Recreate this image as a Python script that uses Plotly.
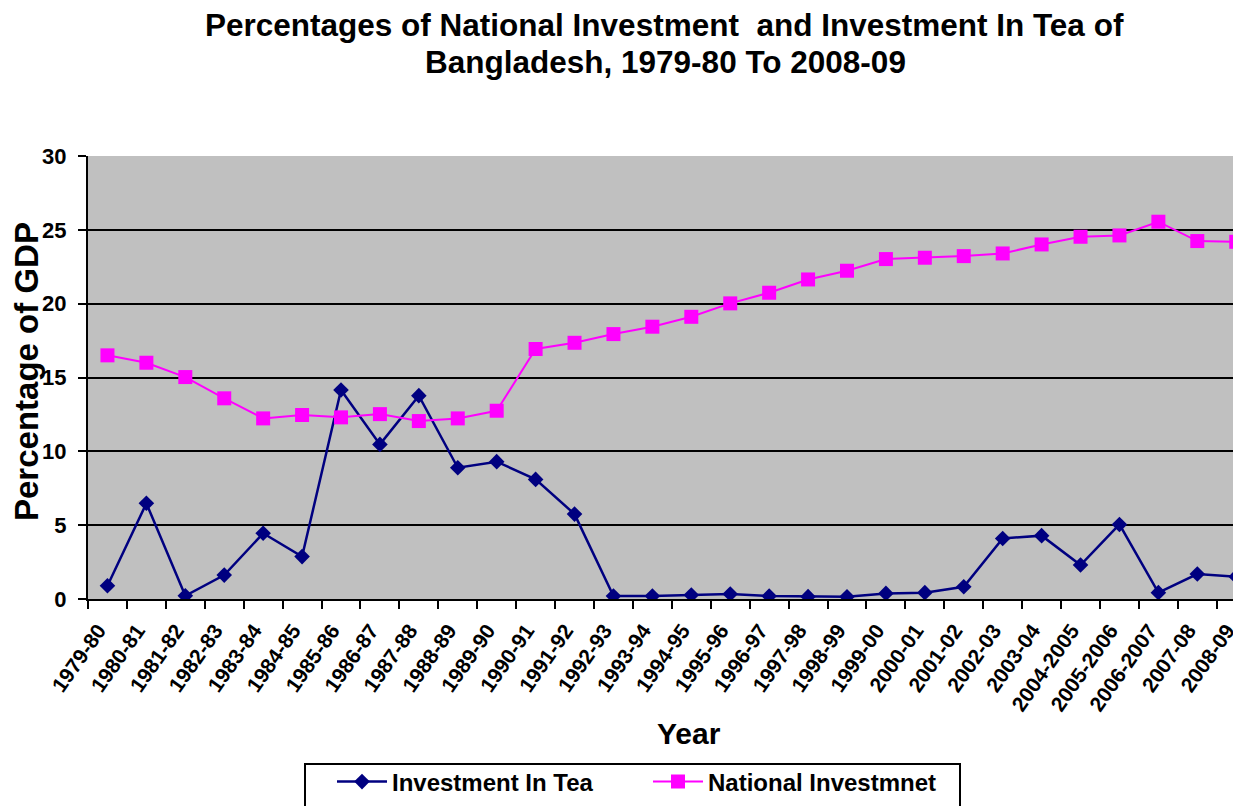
import plotly.graph_objects as go

years = ["1979-80", "1980-81", "1981-82", "1982-83", "1983-84", "1984-85", "1985-86",
         "1986-87", "1987-88", "1988-89", "1989-90", "1990-91", "1991-92", "1992-93",
         "1993-94", "1994-95", "1995-96", "1996-97", "1997-98", "1998-99", "1999-00",
         "2000-01", "2001-02", "2002-03", "2003-04", "2004-2005", "2005-2006",
         "2006-2007", "2007-08", "2008-09"]

tea = [0.9, 6.48, 0.22, 1.62, 4.45, 2.87, 14.15, 10.47, 13.77, 8.89, 9.3, 8.1, 5.75,
       0.2, 0.2, 0.27, 0.34, 0.2, 0.16, 0.15, 0.38, 0.43, 0.83, 4.1, 4.29, 2.3, 5.05,
       0.43, 1.69, 1.51]

national = [16.5, 16.0, 15.03, 13.59, 12.23, 12.46, 12.3, 12.52, 12.05, 12.23, 12.75,
            16.93, 17.35, 17.94, 18.44, 19.11, 20.02, 20.74, 21.64, 22.23, 23.02, 23.11,
            23.22, 23.4, 24.01, 24.53, 24.62, 25.55, 24.24, 24.19]

y_ticks = [0, 5, 10, 15, 20, 25, 30]

FONT = "Liberation Sans, Arial, sans-serif"

# page has an 8px body margin; size the figure to fill the rest of the window
OFF = 8
W, H = 1241 - OFF, 806 - OFF
# plot area in page pixels: x 88..1237, y 156..599
L = 88 - OFF
T = 156 - OFF
R = W - (1237 - OFF)
B = H - (599 - OFF)
pw = W - L - R
ph = H - T - B


def px_x(x):
    return (x - OFF - L) / pw


def px_y(y):
    return (T + ph - (y - OFF)) / ph


fig = go.Figure()
fig.add_trace(go.Scatter(
    x=years, y=tea, mode="lines+markers", name="Investment In Tea",
    line=dict(color="#000080", width=2.5),
    marker=dict(symbol="diamond", size=12, color="#000080"),
))
fig.add_trace(go.Scatter(
    x=years, y=national, mode="lines+markers", name="National Investmnet",
    line=dict(color="#FF00FF", width=2),
    marker=dict(symbol="square", size=14, color="#FF00FF"),
))

fig.update_layout(
    width=W, height=H,
    margin=dict(l=L, r=R, t=T, b=B, pad=0, autoexpand=False),
    paper_bgcolor="white",
    plot_bgcolor="#C0C0C0",
    font=dict(family=FONT, color="black"),
    showlegend=True,
    legend=dict(
        orientation="h",
        x=px_x(332), xanchor="left",
        y=px_y(782), yanchor="middle",
        font=dict(family=FONT, size=24, color="black", weight="bold"),
        bgcolor="rgba(0,0,0,0)",
        borderwidth=0,
        itemwidth=50,
        entrywidth=251,
        entrywidthmode="pixels",
        traceorder="normal",
    ),
    xaxis=dict(
        type="category",
        range=[-0.5, 29.02],
        showgrid=False,
        showline=True, linecolor="black", linewidth=2,
        ticks="outside", ticklen=8, tickwidth=2, tickcolor="black",
        tickson="boundaries",
        tickangle=-55,
        ticklabelstandoff=9,
        ticklabelshift=-9,
        tickfont=dict(family=FONT, size=21, color="black", weight="bold"),
        zeroline=False,
        automargin=False,
    ),
    yaxis=dict(
        range=[0, 30],
        tickvals=y_ticks,
        showgrid=True, gridcolor="black", gridwidth=2,
        showline=True, linecolor="black", linewidth=2,
        ticks="outside", ticklen=8, tickwidth=2, tickcolor="black",
        ticklabelstandoff=7,
        tickfont=dict(family=FONT, size=22, color="black", weight="bold"),
        zeroline=False,
        automargin=False,
    ),
    annotations=[
        dict(text="Percentages of National Investment  and Investment In Tea of",
             showarrow=False, xref="paper", yref="paper",
             x=px_x(664), y=px_y(25), xanchor="center", yanchor="middle",
             font=dict(family=FONT, size=31.5, color="black", weight="bold")),
        dict(text="Bangladesh, 1979-80 To 2008-09",
             showarrow=False, xref="paper", yref="paper",
             x=px_x(665), y=px_y(62), xanchor="center", yanchor="middle",
             font=dict(family=FONT, size=31.5, color="black", weight="bold")),
        dict(text="Percentage of GDP", textangle=-90, showarrow=False,
             xref="paper", yref="paper", x=px_x(26), y=px_y(372),
             xanchor="center", yanchor="middle",
             font=dict(family=FONT, size=33, color="black", weight="bold")),
        dict(text="Year", showarrow=False,
             xref="paper", yref="paper", x=px_x(689), y=px_y(733),
             xanchor="center", yanchor="middle",
             font=dict(family=FONT, size=30, color="black", weight="bold")),
    ],
    shapes=[
        dict(type="rect", xref="paper", yref="paper",
             x0=px_x(305), x1=px_x(960), y0=px_y(764), y1=px_y(830),
             line=dict(color="black", width=2), fillcolor="rgba(0,0,0,0)",
             layer="above"),
    ],
)

fig.write_html("out.html")
